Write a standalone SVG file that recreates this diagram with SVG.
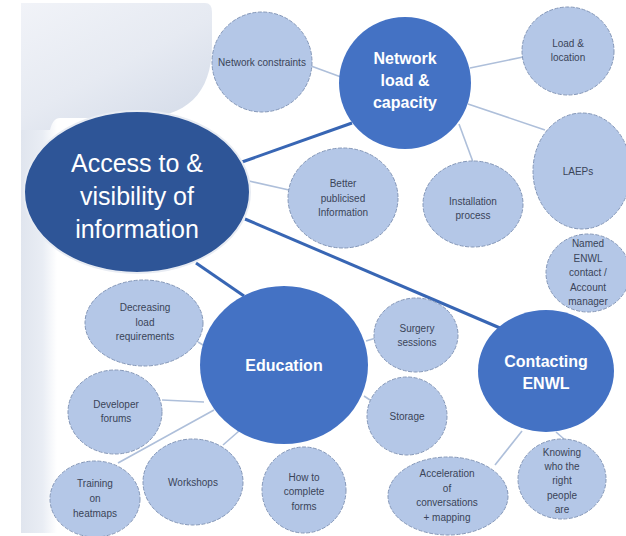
<svg xmlns="http://www.w3.org/2000/svg" width="626" height="536" viewBox="0 0 626 536">
<defs>
<linearGradient id="bg" x1="0" y1="0" x2="0.8" y2="1">
<stop offset="0" stop-color="#F1F3F8"/>
<stop offset="0.55" stop-color="#E6EAF2"/>
<stop offset="1" stop-color="#D5DCE9"/>
</linearGradient>
<linearGradient id="col" x1="0" y1="0" x2="1" y2="0">
<stop offset="0" stop-color="#E0E5EE"/>
<stop offset="0.6" stop-color="#E9EDF4"/>
<stop offset="1" stop-color="#FFFFFF"/>
</linearGradient>
</defs>
<style>
.dark{fill:#2E5597;}
.mid{fill:#4472C4;}
.light{fill:#B4C7E7;stroke:#8497B8;stroke-width:1;stroke-dasharray:4 1.5;}
.big{font-family:"Liberation Sans",Arial,sans-serif;font-size:25px;fill:#FFFFFF;text-anchor:middle;}
.hd{font-family:"Liberation Sans",Arial,sans-serif;font-size:16px;font-weight:bold;fill:#FFFFFF;text-anchor:middle;}
.sm{font-family:"Liberation Sans",Arial,sans-serif;font-size:10px;fill:#3A4458;text-anchor:middle;}
.thick{stroke:#3866B4;stroke-width:3;fill:none;}
.thin{stroke:#AEBFDA;stroke-width:1.6;fill:none;}
</style>
<rect width="626" height="536" fill="#FFFFFF"/>
<rect x="21" y="100" width="36" height="433" fill="url(#col)"/>
<path d="M21,3 H205 Q212,3 212,12 V45 C212,95 185,117 140,118 H60 C55,118 52,122 50,130 L21,130 Z" fill="url(#bg)"/>

<g id="connectors">
<line class="thick" x1="242" y1="162" x2="352" y2="123"/>
<line class="thick" x1="245" y1="219" x2="500" y2="328"/>
<line class="thick" x1="196" y1="263" x2="244" y2="296"/>
<line class="thin" x1="311" y1="66" x2="341" y2="77"/>
<line class="thin" x1="470" y1="68" x2="523" y2="57"/>
<line class="thin" x1="468" y1="104" x2="545" y2="130"/>
<line class="thin" x1="459" y1="124" x2="473" y2="162"/>
<line class="thin" x1="249" y1="181" x2="289" y2="190"/>
<line class="thin" x1="198" y1="342" x2="208" y2="348"/>
<line class="thin" x1="162" y1="400" x2="204" y2="402"/>
<line class="thin" x1="118" y1="463" x2="214" y2="410"/>
<line class="thin" x1="223" y1="445" x2="239" y2="431"/>
<line class="thin" x1="366" y1="341" x2="376" y2="338"/>
<line class="thin" x1="364" y1="396" x2="370" y2="400"/>
<line class="thin" x1="522" y1="431" x2="495" y2="465"/>
<line class="thin" x1="556" y1="432" x2="564" y2="439"/>
</g>

<g id="network-constraints">
<circle class="light" cx="262" cy="62" r="50"/>
<text class="sm" x="262" y="66">Network constraints</text>
</g>
<g id="load-location">
<ellipse class="light" cx="568" cy="51" rx="46" ry="44"/>
<text class="sm" x="568" y="47">Load &amp;</text>
<text class="sm" x="568" y="61">location</text>
</g>
<g id="laeps">
<ellipse class="light" cx="582" cy="171" rx="49" ry="58"/>
<text class="sm" x="578" y="175">LAEPs</text>
</g>
<g id="installation-process">
<ellipse class="light" cx="473" cy="204" rx="50" ry="43"/>
<text class="sm" x="473" y="205">Installation</text>
<text class="sm" x="473" y="219">process</text>
</g>
<g id="better-publicised">
<ellipse class="light" cx="343" cy="198" rx="55" ry="50"/>
<text class="sm" x="343" y="187">Better</text>
<text class="sm" x="343" y="202">publicised</text>
<text class="sm" x="343" y="216">Information</text>
</g>
<g id="named-enwl">
<ellipse class="light" cx="588" cy="273" rx="42" ry="39"/>
<text class="sm" x="588" y="247">Named</text>
<text class="sm" x="588" y="262">ENWL</text>
<text class="sm" x="588" y="276">contact /</text>
<text class="sm" x="588" y="291">Account</text>
<text class="sm" x="588" y="305">manager</text>
</g>
<g id="network-load">
<circle class="mid" cx="405" cy="83" r="66"/>
<text class="hd" x="405" y="64">Network</text>
<text class="hd" x="405" y="86">load &amp;</text>
<text class="hd" x="405" y="108">capacity</text>
</g>
<g id="access">
<ellipse cx="137" cy="192" rx="113" ry="81" fill="#2E5597" stroke="#E8ECF3" stroke-width="2"/>
<text class="big" x="137" y="172">Access to &amp;</text>
<text class="big" x="137" y="205">visibility of</text>
<text class="big" x="137" y="238">information</text>
</g>
<g id="decreasing-load">
<ellipse class="light" cx="144" cy="323" rx="59" ry="43"/>
<text class="sm" x="145" y="311">Decreasing</text>
<text class="sm" x="145" y="326">load</text>
<text class="sm" x="145" y="340">requirements</text>
</g>
<g id="developer-forums">
<ellipse class="light" cx="115" cy="412" rx="47" ry="42"/>
<text class="sm" x="116" y="408">Developer</text>
<text class="sm" x="116" y="422">forums</text>
</g>
<g id="training-heatmaps">
<ellipse class="light" cx="95" cy="499" rx="45" ry="38"/>
<text class="sm" x="95" y="487">Training</text>
<text class="sm" x="95" y="502">on</text>
<text class="sm" x="95" y="517">heatmaps</text>
</g>
<g id="workshops">
<ellipse class="light" cx="193" cy="482" rx="50" ry="43"/>
<text class="sm" x="193" y="486">Workshops</text>
</g>
<g id="how-to-complete-forms">
<ellipse class="light" cx="304" cy="490" rx="42" ry="43"/>
<text class="sm" x="304" y="481">How to</text>
<text class="sm" x="304" y="495">complete</text>
<text class="sm" x="304" y="510">forms</text>
</g>
<g id="education">
<ellipse class="mid" cx="284" cy="365" rx="84" ry="79"/>
<text class="hd" x="284" y="371">Education</text>
</g>
<g id="surgery-sessions">
<ellipse class="light" cx="416" cy="335" rx="42" ry="37"/>
<text class="sm" x="417" y="332">Surgery</text>
<text class="sm" x="417" y="346">sessions</text>
</g>
<g id="storage">
<ellipse class="light" cx="407" cy="416" rx="40" ry="39"/>
<text class="sm" x="407" y="420">Storage</text>
</g>
<g id="contacting-enwl">
<ellipse class="mid" cx="546" cy="371" rx="68" ry="61"/>
<text class="hd" x="546" y="367">Contacting</text>
<text class="hd" x="546" y="389">ENWL</text>
</g>
<g id="acceleration">
<ellipse class="light" cx="448" cy="496" rx="60" ry="39"/>
<text class="sm" x="447" y="477">Acceleration</text>
<text class="sm" x="447" y="492">of</text>
<text class="sm" x="447" y="506">conversations</text>
<text class="sm" x="447" y="521">+ mapping</text>
</g>
<g id="knowing-right-people">
<ellipse class="light" cx="562" cy="479" rx="44" ry="40"/>
<text class="sm" x="562" y="456">Knowing</text>
<text class="sm" x="562" y="470">who the</text>
<text class="sm" x="562" y="484">right</text>
<text class="sm" x="562" y="499">people</text>
<text class="sm" x="562" y="513">are</text>
</g>
</svg>
